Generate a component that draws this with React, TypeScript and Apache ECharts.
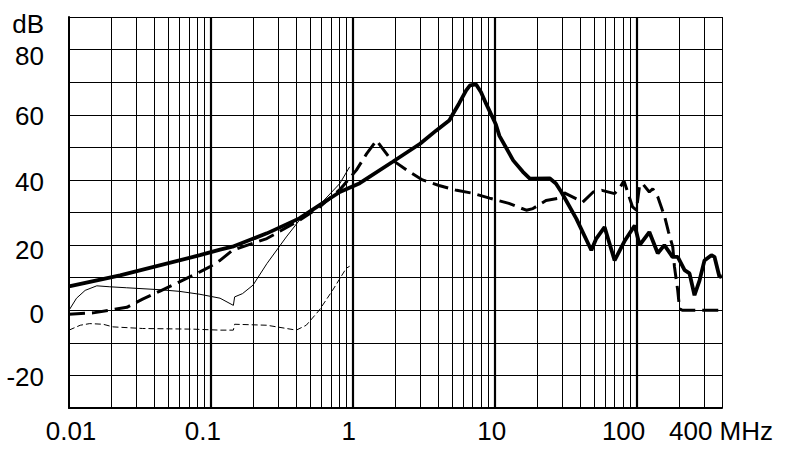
import { useEffect, useRef } from "react";
import * as echarts from "echarts";

// [frequency MHz, level dB]
const thickSolid: [number, number][] = [
  [0.01, 7.3], [0.0229, 10.7], [0.0837, 16.9], [0.116, 18.6], [0.142, 19.5],
  [0.248, 23.6], [0.42, 28.2], [0.58, 32.2], [0.81, 36.3], [1.12, 39.0],
  [1.9, 45.5], [2.98, 51.1], [3.88, 55.2], [4.8, 58.3], [5.09, 60.3],
  [5.6, 63.4], [6.3, 67.5], [6.7, 69.0], [7.4, 69.3], [8.0, 67.0],
  [8.7, 63.4], [10.2, 57.0], [10.8, 53.5], [13.5, 46.0], [15.8, 42.5],
  [17.7, 40.4], [24.4, 40.5], [27, 38.9], [29.5, 36.3], [37.6, 28.1],
  [48, 18.4], [52, 22.0], [59.5, 25.5], [70, 15.3], [83, 21.5], [97, 26.0],
  [105, 20.0], [123, 24.0], [141, 17.5], [157, 20.0], [179, 16.4],
  [195, 16.4], [218, 12.3], [236, 11.3], [256, 4.6], [278, 9.2],
  [301, 15.3], [337, 16.9], [354, 16.4], [384, 10.2], [400, 10.5],
];

const thickDashed: [number, number][] = [
  [0.01, -1.2], [0.0148, -0.8], [0.0256, 0.9], [0.033, 3.4], [0.0438, 5.9],
  [0.06, 8.7], [0.0837, 11.8], [0.098, 13.3], [0.116, 15.3], [0.142, 18.4],
  [0.248, 22.0], [0.42, 27.6], [0.58, 31.6], [0.81, 37.0], [1.06, 43.0],
  [1.25, 48.0], [1.47, 52.1], [1.83, 46.6], [2.4, 43.0], [3.1, 40.0],
  [4.05, 38.3], [5.4, 36.8], [7.0, 35.9], [9.2, 34.4], [12.6, 32.8],
  [16.7, 30.7], [18.6, 31.2], [23, 33.7], [28.7, 34.4], [31, 36.0],
  [41.7, 33.2], [49.5, 36.3], [57, 36.8], [70, 35.8], [76, 37.5],
  [81.5, 39.7], [93.7, 31.7], [99.7, 30.7], [105, 38.3], [110, 38.9],
  [123, 36.3], [130, 37.3], [141, 34.8], [158, 28.6], [168, 24.0],
  [180, 19.4], [185, 13.3], [195, 6.1], [201, 0.5], [210, 0], [400, 0],
];

const thinSolid: [number, number][] = [
  [0.01, 0], [0.0113, 3.7], [0.013, 6.1], [0.0157, 7.5], [0.0194, 7.2],
  [0.0255, 6.9], [0.0438, 6.3], [0.06, 5.8], [0.0837, 4.9], [0.116, 3.7],
  [0.144, 1.5], [0.147, 4.1], [0.167, 5.1], [0.198, 7.7], [0.248, 14.3],
  [0.34, 22.5], [0.42, 27.6], [0.58, 32.2], [0.81, 38.9], [0.95, 44.0],
];

const thinDashed: [number, number][] = [
  [0.01, -6.1], [0.012, -4.6], [0.014, -4.1], [0.0174, -4.3], [0.0204, -5.1],
  [0.033, -5.6], [0.075, -5.8], [0.116, -6.1], [0.144, -6.1], [0.147, -4.3],
  [0.248, -4.6], [0.4, -6.1], [0.47, -4.6], [0.58, 0], [0.72, 6.1],
  [0.9, 12.9], [0.95, 13.5],
];

// grid / axis definitions
const minorFreqs = [
  0.02, 0.03, 0.04, 0.05, 0.06, 0.07, 0.08, 0.09,
  0.2, 0.3, 0.4, 0.5, 0.6, 0.7, 0.8, 0.9,
  2, 3, 4, 5, 6, 7, 8, 9,
  20, 30, 40, 50, 60, 70, 80, 90,
  200, 300,
];
const decadeFreqs = [0.1, 1, 10, 100];
const edgeFreqs = [400];
const xTickValues = [0.01, 0.1, 1, 10, 100, 400];
const xTickLabels = ["0.01", "0.1", "1", "10", "100", "400 MHz"];
const yTickValues = [90, 80, 60, 40, 20, 0, -20];
const yTickLabels = ["dB", "80", "60", "40", "20", "0", "-20"];

const FONT = "'Liberation Sans', Arial, Helvetica, sans-serif";
const FS = 26;

export default function App() {
  const ref = useRef<HTMLDivElement>(null);

  useEffect(() => {
    document.body.style.margin = "0";
    if (!ref.current) return;
    const chart = echarts.init(ref.current, null, { renderer: "svg" });

    const xRichKeys = ["xa", "xb", "xc", "xd", "xe", "xf"];
    const yRichKeys = ["ya", "yb", "yc", "yd", "ye", "yf", "yg"];
    const t = (padding: number[]) => ({ fontSize: FS, fontFamily: FONT, color: "#000", padding });

    const gridLines = [
      ...minorFreqs.map((v) => ({ xAxis: v, lineStyle: { width: 1 } })),
      ...decadeFreqs.map((v) => ({ xAxis: v, lineStyle: { width: 2.2 } })),
      ...edgeFreqs.map((v) => ({ xAxis: v, lineStyle: { width: 1 } })),
    ];

    const line = (
      name: string,
      data: [number, number][],
      width: number,
      type: any,
    ) => ({
      name,
      type: "line",
      data,
      showSymbol: false,
      symbol: "none",
      z: 5,
      silent: true,
      lineStyle: { color: "#000", width, type },
    });

    chart.setOption({
      animation: false,
      backgroundColor: "#fff",
      grid: { left: 69, right: 68, top: 17, bottom: 44 },
      xAxis: {
        type: "log",
        logBase: 10,
        min: 0.01,
        max: 400,
        axisLine: { onZero: false, lineStyle: { color: "#000", width: 2 } },
        axisTick: { show: false },
        splitLine: { show: false },
        minorTick: { show: false },
        axisLabel: {
          showMinLabel: true,
          showMaxLabel: true,
          margin: 10,
          color: "#000",
          fontSize: FS,
          fontFamily: FONT,
          formatter: (v: number) => {
            const k = Math.log10(v);
            for (let i = 0; i < xTickValues.length; i++) {
              if (Math.abs(Math.log10(xTickValues[i]) - k) < 0.01) {
                return `{${xRichKeys[i]}|${xTickLabels[i]}}`;
              }
            }
            return "";
          },
          rich: {
            xa: t([0, 0, 0, 4]),
            xb: t([0, 16, 0, 0]),
            xc: t([0, 8, 0, 0]),
            xd: t([0, 6, 0, 0]),
            xe: t([0, 26, 0, 0]),
            xf: t([0, 2, 0, 0]),
          },
        },
      },
      yAxis: {
        type: "value",
        min: -30,
        max: 90,
        interval: 10,
        axisLine: { show: true, onZero: false, lineStyle: { color: "#000", width: 2 } },
        axisTick: { show: false },
        splitLine: { show: true, lineStyle: { color: "#000", width: 1 } },
        axisLabel: {
          margin: 25,
          color: "#000",
          fontSize: FS,
          fontFamily: FONT,
          formatter: (v: number) => {
            const i = yTickValues.indexOf(Math.round(v));
            return i >= 0 ? `{${yRichKeys[i]}|${yTickLabels[i]}}` : "";
          },
          rich: {
            ya: t([14, 0, 0, 0]),
            yb: t([12, 0, 0, 0]),
            yc: t([2, 0, 0, 0]),
            yd: t([5, 0, 0, 0]),
            ye: t([10, 0, 0, 0]),
            yf: t([8, 0, 0, 0]),
            yg: t([4, 0, 0, 0]),
          },
        },
      },
      series: [
        {
          name: "grid",
          type: "line",
          data: [],
          z: 1,
          silent: true,
          markLine: {
            silent: true,
            symbol: ["none", "none"],
            label: { show: false },
            emphasis: { disabled: true },
            lineStyle: { color: "#000", type: "solid", width: 1 },
            data: gridLines,
          },
        },
        line("thinDashed", thinDashed, 1, [6, 3]),
        line("thinSolid", thinSolid, 1, "solid"),
        line("thickDashed", thickDashed, 3, [16, 7]),
        line("thickSolid", thickSolid, 3.8, "solid"),
      ],
    });

    return () => chart.dispose();
  }, []);

  return <div ref={ref} style={{ width: 790, height: 452 }} />;
}
